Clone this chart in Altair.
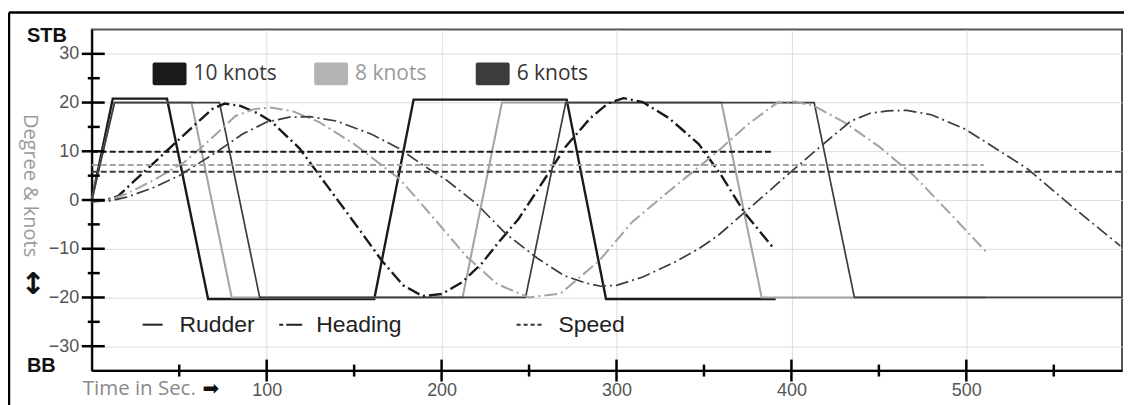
import altair as alt
import pandas as pd

# ---------------- data ----------------
speeds = ["10 knots", "8 knots", "6 knots"]
line_colors = ["#1a1a1a", "#a4a4a4", "#3c3c3c"]
line_widths = [2.4, 1.7, 2.3]
swatch_colors = ["#1a1a1a", "#b4b4b4", "#3c3c3c"]
legend_text_colors = ["#3a3a3a", "#9a9a9a", "#333333"]

# Rudder angle (deg)
rud10_t = [0, 12, 43, 66.5, 161.5, 184, 271.5, 294, 391]
rud10_v = [0, 20.8, 20.8, -20.3, -20.3, 20.6, 20.6, -20.3, -20.3]
rud8_t = [0, 13, 57, 80, 212, 234.5, 360, 383, 511]
rud8_v = [0, 20, 20, -20, -20, 20, 20, -20, -20]
rud6_t = [0, 13, 73, 96, 248, 271, 413, 436, 589]
rud6_v = [0, 20, 20, -20, -20, 20, 20, -20, -20]

# Heading change (deg)
head10_t = [0, 8, 15, 30, 45, 60, 69, 76, 85, 95, 103, 119, 135, 150, 166, 178, 189,
            200, 212, 223, 233, 244, 258, 271, 285, 295, 304, 315, 330, 347, 360, 373, 390]
head10_v = [-0.3, 0, 0.8, 5.8, 10.8, 15.8, 18.7, 19.8, 19.3, 17.8, 16, 10.5, 2.7, -4.6, -12.5, -17.5, -19.7,
            -19.3, -16.8, -13, -8.5, -3.9, 3.8, 11, 16.8, 19.8, 20.9, 20.1, 16.8, 11.5, 5, -2.5, -10]
head8_t = [0, 10, 20, 35, 53, 68, 82, 92, 102, 115, 130, 150, 176, 195, 214, 232, 250,
           268, 290, 309, 330, 345, 358, 375, 392, 402, 413, 430, 450, 470, 490, 511]
head8_v = [-0.3, 0, 1.3, 4, 7.8, 12.5, 17.2, 18.6, 19, 18.2, 16, 11.5, 4.3, -3.5, -11.5, -17.3, -20,
           -19.2, -12.5, -4.5, 1.8, 6.2, 10, 15.5, 20, 20.2, 19.3, 16, 11, 5, -2.5, -10.5]
head6_t = [0, 10, 20, 35, 50, 72, 86, 100, 113, 125, 140, 160, 176, 190, 202, 220, 237, 255, 270,
           282, 291, 300, 315, 333, 347, 358, 375, 395, 415, 434, 445, 455, 466, 480, 499, 515, 535, 560, 588]
head6_v = [-0.3, -0.2, 0.6, 2.5, 5, 10, 13.5, 16, 17, 17.1, 16.2, 13.5, 10.5, 7, 4.3, -0.8, -7, -12, -15.5,
           -17, -17.7, -17.5, -15.8, -12.8, -10, -7.3, -2, 4.3, 10.5, 16.2, 17.8, 18.3, 18.4, 17.5, 14.6, 11, 6.4, -1.2, -9.4]

# Speed (knots)
spd10_t = [0, 390]
spd10_v = [9.9, 9.9]
spd8_t = [0, 510]
spd8_v = [7.2, 7.2]
spd6_t = [0, 589]
spd6_v = [5.8, 5.8]

x_major = [100, 200, 300, 400, 500]
x_minor = [50, 150, 250, 350, 450, 550]
y_major = [-30, -20, -10, 0, 10, 20, 30]
y_minor = [-25, -15, -5, 5, 15, 25]


def frame(t, v, speed):
    return pd.DataFrame({"t": t, "v": v, "speed": speed})


rudder = pd.concat([frame(rud10_t, rud10_v, speeds[0]),
                    frame(rud8_t, rud8_v, speeds[1]),
                    frame(rud6_t, rud6_v, speeds[2])])
heading = pd.concat([frame(head10_t, head10_v, speeds[0]),
                     frame(head8_t, head8_v, speeds[1]),
                     frame(head6_t, head6_v, speeds[2])])
speed = pd.concat([frame(spd10_t, spd10_v, speeds[0]),
                   frame(spd8_t, spd8_v, speeds[1]),
                   frame(spd6_t, spd6_v, speeds[2])])

# ---------------- scales / axes ----------------
xscale = alt.Scale(domain=[0, 589], nice=False, zero=False)
yscale = alt.Scale(domain=[-35, 35], nice=False, zero=False)

x_axis = alt.Axis(values=x_major, grid=True, gridColor="#dcdcdc", gridWidth=1,
                  ticks=False, tickSize=0, domainColor="#000000", domainWidth=2,
                  labelFont="Liberation Sans", labelFontSize=18, labelColor="#555555",
                  labelPadding=11, format="d", title=None)
y_axis = alt.Axis(values=y_major, grid=True, gridColor="#dcdcdc", gridWidth=1,
                  ticks=False, tickSize=0, domainColor="#000000", domainWidth=2,
                  labelFont="Liberation Sans", labelFontSize=18, labelColor="#555555",
                  labelPadding=13, title="Degree & knots", titleAngle=90,
                  titleX=-62, titleY=156, titleFont="Open Sans", titleFontSize=20,
                  titleFontWeight="normal", titleColor="#9a9a9a",
                  titleAlign="center", titleBaseline="middle")

X = alt.X("t:Q", scale=xscale, axis=x_axis)
Y = alt.Y("v:Q", scale=yscale, axis=y_axis)
color = alt.Color("speed:N", scale=alt.Scale(domain=speeds, range=line_colors), legend=None)
width = alt.StrokeWidth("speed:N", scale=alt.Scale(domain=speeds, range=line_widths), legend=None)

rudder_layer = alt.Chart(rudder).mark_line().encode(x=X, y=Y, color=color, strokeWidth=width)
heading_layer = alt.Chart(heading).mark_line(strokeDash=[13, 4, 2, 4]).encode(
    x=X, y=Y, color=color, strokeWidth=width)
speed_layer = alt.Chart(speed).mark_line(strokeDash=[6, 3]).encode(
    x=X, y=Y, color=color, strokeWidth=alt.value(2))

# ---------------- crossing tick marks ----------------
def yticks(vals, x0, x1):
    return alt.Chart(pd.DataFrame({"v": vals})).mark_rule(color="black", strokeWidth=2.5).encode(
        y=Y, x=alt.value(x0), x2=alt.value(x1))


def xticks(vals, y0, y1):
    return alt.Chart(pd.DataFrame({"t": vals})).mark_rule(color="black", strokeWidth=2.5).encode(
        x=X, y=alt.value(y0), y2=alt.value(y1))


tick_layers = [yticks(y_major, -10, 13), yticks(y_minor, -4, 8),
               xticks(x_major, 331, 353), xticks(x_minor, 336, 348)]

# ---------------- texts & decorations ----------------
base = alt.Chart(pd.DataFrame({"a": [0]}))


def txt(s, x, y, size, color, font="Liberation Sans", weight="normal", align="left"):
    return base.mark_text(text=s, font=font, fontSize=size, fontWeight=weight, color=color,
                          align=align, baseline="middle").encode(x=alt.value(x), y=alt.value(y))


def rule(x0, x1, y0, y1, color="black", w=2, dash=None):
    kw = dict(color=color, strokeWidth=w)
    if dash:
        kw["strokeDash"] = dash
    return base.mark_rule(**kw).encode(x=alt.value(x0), x2=alt.value(x1),
                                       y=alt.value(y0), y2=alt.value(y1))


deco = [
    txt("STB", -65, 7, 20, "#111111", weight="bold"),
    txt("BB", -65, 337, 20, "#111111", weight="bold"),
    txt("↕", -59, 256, 30, "#111111", font="DejaVu Sans", weight="bold", align="center"),
    txt("Time in Sec.", -9, 361, 20.5, "#8a8a8a", font="Open Sans"),
    txt("➡", 111, 361, 20, "#111111", font="DejaVu Sans"),
    # outer frame
    rule(-83, 1040, -17, -17, w=2.5),
    rule(-83, -83, -17, 380, w=2.5),
]

# top legend (speeds)
for i, (lab, sc, tc) in enumerate(zip(speeds, swatch_colors, legend_text_colors)):
    off = i * 162
    deco.append(base.mark_rect(color=sc, cornerRadius=2).encode(
        x=alt.value(61 + off), x2=alt.value(95 + off), y=alt.value(33), y2=alt.value(56)))
    deco.append(txt(lab, 102 + off, 45, 21, tc, font="Open Sans"))

# bottom legend (line types)
deco += [
    rule(51, 71, 296, 296, color="#222222", w=2),
    txt("Rudder", 88, 296, 23, "#222222"),
    rule(188, 211, 296, 296, color="#222222", w=2, dash=[4, 3, 16, 60]),
    txt("Heading", 225, 296, 23, "#222222"),
    rule(426, 453, 296, 296, color="#333333", w=2, dash=[4, 3]),
    txt("Speed", 468, 296, 23, "#222222"),
]

chart = alt.layer(rudder_layer, heading_layer, speed_layer, *tick_layers, *deco).properties(
    width=1033, height=342,
    autosize=alt.AutoSizeParams(type="none"),
    padding={"left": 84, "top": 21, "right": 2, "bottom": 34},
    background="white",
).configure_view(stroke="#555555", strokeWidth=2)

chart.save("out.html", embed_options={"renderer": "svg", "actions": False})
